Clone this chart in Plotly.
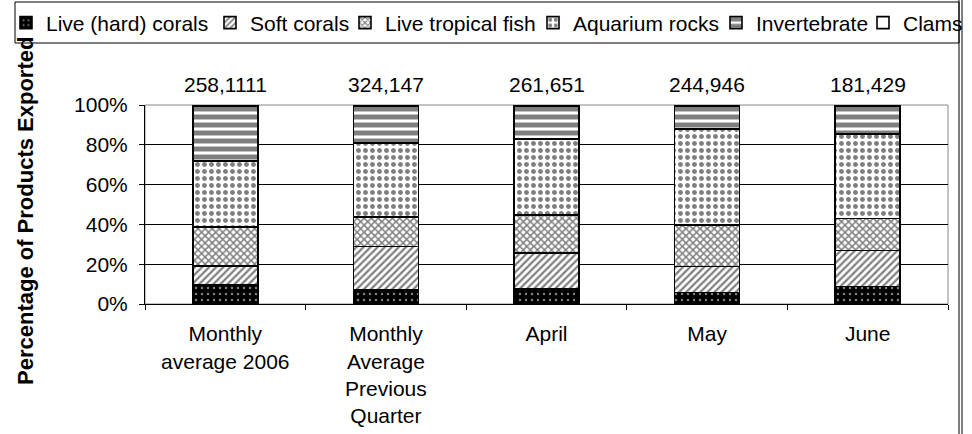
import plotly.graph_objects as go

categories = ["Monthly<br>average 2006", "Monthly<br>Average<br>Previous<br>Quarter", "April", "May", "June"]
totals = ["258,1111", "324,147", "261,651", "244,946", "181,429"]
live_hard_corals = [9.6, 7.1, 7.7, 5.7, 8.7]
soft_corals = [9.4, 21.8, 17.9, 13.1, 18.1]
live_tropical_fish = [19.7, 14.7, 19.1, 20.9, 16.1]
aquarium_rocks = [33.3, 37.2, 38.3, 48.3, 42.5]
invertebrate = [27.5, 18.7, 16.5, 11.5, 14.1]
clams = [0.5, 0.5, 0.5, 0.5, 0.5]
y_ticks = [0, 20, 40, 60, 80, 100]

W, H = 972, 434
L, R, T, B = 145, 24, 105, 130
PW, PH = W - L - R, H - T - B

def px(x):
    return (x - L) / PW

def py(y):
    return 1 - (y - T) / PH

FONT = "Arial, Liberation Sans, sans-serif"

series = [
    ("Live (hard) corals", live_hard_corals, dict(shape=".", bgcolor="black", fgcolor="white", size=6, solidity=0.14), "black", 23),
    ("Soft corals", soft_corals, dict(shape="/", bgcolor="white", fgcolor="black", size=5, solidity=0.45), "white", 227),
    ("Live tropical fish", live_tropical_fish, dict(shape="x", bgcolor="white", fgcolor="black", size=5, solidity=0.5), "white", 362),
    ("Aquarium rocks", aquarium_rocks, dict(shape=".", bgcolor="white", fgcolor="black", size=7, solidity=0.4), "white", 550),
    ("Invertebrate", invertebrate, dict(shape="-", bgcolor="white", fgcolor="black", size=8, solidity=0.62), "white", 733),
    ("Clams", clams, dict(shape="", bgcolor="white", fgcolor="black"), "white", 880),
]

fig = go.Figure()
layout_legends = {}
for i, (name, vals, pat, col, lx) in enumerate(series):
    key = "legend" if i == 0 else f"legend{i+1}"
    fig.add_trace(go.Bar(
        x=categories, y=vals, name=name,
        marker=dict(color=col, pattern=pat, line=dict(color="black", width=1.6)),
        legend=key, showlegend=True,
    ))
    layout_legends[key] = dict(
        xref="container", yref="container",
        x=(lx - 17) / W, y=1 - 23 / H, xanchor="left", yanchor="middle",
        orientation="h", bgcolor="rgba(0,0,0,0)", borderwidth=0, visible=True,
        font=dict(family=FONT, size=21, color="black"), itemwidth=30,
    )

annotations = []
for c, t in zip(categories, totals):
    annotations.append(dict(x=c, y=py(84), xref="x", yref="paper", text=t, showarrow=False,
                            xanchor="center", yanchor="middle",
                            font=dict(family=FONT, size=21, color="black")))
annotations.append(dict(x=px(25), y=py(211), xref="paper", yref="paper", textangle=-90,
                        xanchor="center", yanchor="middle",
                        text="<b>Percentage of Products Exported</b>", showarrow=False,
                        font=dict(family=FONT, size=22, color="black")))

shapes = [
    dict(type="rect", xref="paper", yref="paper", x0=0, x1=1, y0=0, y1=1,
         line=dict(color="#888888", width=1), layer="below"),
    dict(type="rect", xref="paper", yref="paper", x0=px(15), x1=px(959), y0=py(43), y1=py(2),
         line=dict(color="black", width=1), fillcolor="rgba(0,0,0,0)"),
    dict(type="line", xref="paper", yref="paper", x0=px(959), x1=px(959), y0=py(0), y1=py(434),
         line=dict(color="black", width=1)),
    dict(type="line", xref="paper", yref="paper", x0=px(962), x1=px(962), y0=py(0), y1=py(434),
         line=dict(color="black", width=1)),
]

fig.update_layout(
    width=W, height=H,
    margin=dict(l=L, r=R, t=T, b=B, pad=0, autoexpand=False),
    paper_bgcolor="white", plot_bgcolor="white",
    barmode="stack", bargap=0.595, showlegend=True,
    font=dict(family=FONT, size=21, color="black"),
    annotations=annotations, shapes=shapes,
    xaxis=dict(showline=True, linecolor="black", linewidth=1, ticks="outside", tickson="boundaries",
               ticklen=5, tickcolor="black", showgrid=False, ticklabelstandoff=11, automargin=False,
               tickfont=dict(family=FONT, size=21, color="black")),
    yaxis=dict(range=[0, 100], tickvals=y_ticks, ticktext=[f"{v}%" for v in y_ticks],
               showline=True, linecolor="black", linewidth=1, ticks="outside", ticklen=5,
               tickcolor="black", showgrid=False, zeroline=False, ticklabelstandoff=7, automargin=False,
               tickfont=dict(family=FONT, size=21, color="black"),
               minor=dict(tickmode="array", tickvals=y_ticks[1:-1], showgrid=True,
                          gridcolor="black", gridwidth=1, ticks="")),
    **layout_legends,
)

fig.write_html("out.html", config={"displayModeBar": False},
               post_script="document.body.style.margin='0px';")
